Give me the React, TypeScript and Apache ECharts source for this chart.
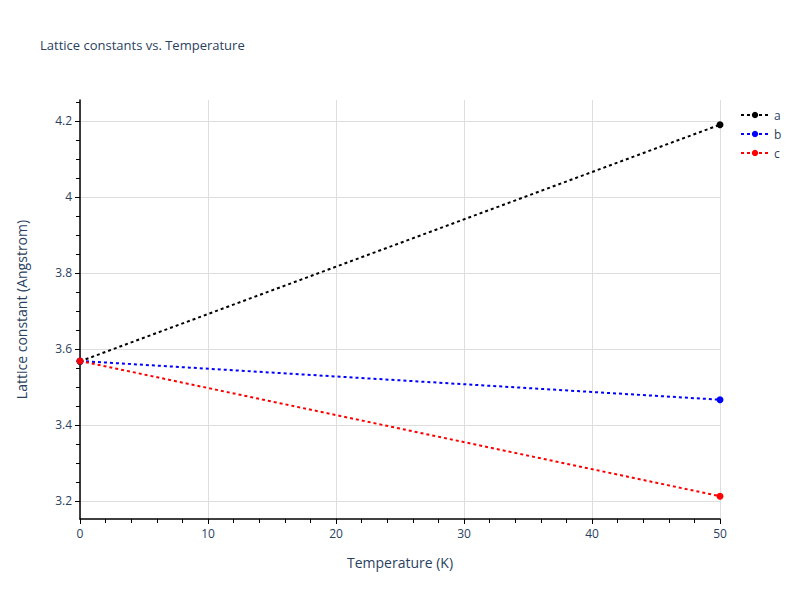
import React, { useEffect, useRef } from "react";
import * as echarts from "echarts";

const temperatures = [0, 50];
const seriesA = [3.567, 4.19];
const seriesB = [3.568, 3.466];
const seriesC = [3.568, 3.212];
const seriesNames = ["a", "b", "c"];
const seriesColors = ["#000000", "#0000ff", "#ff0000"];
const yMajorTicks = [3.2, 3.4, 3.6, 3.8, 4, 4.2];
const yMinorTicks = [3.15, 3.2, 3.25, 3.3, 3.35, 3.4, 3.45, 3.5, 3.55, 3.6, 3.65, 3.7, 3.75, 3.8, 3.85, 3.9, 3.95, 4, 4.05, 4.1, 4.15, 4.2, 4.25];

const textColor = "#2a3f5f";
const font = "'Open Sans', Verdana, Arial, sans-serif";

export default function App() {
  const ref = useRef<HTMLDivElement>(null);
  useEffect(() => {
    if (!ref.current) return;
    const chart = echarts.init(ref.current, null, { renderer: "svg" });
    const allSeries = [seriesA, seriesB, seriesC];
    const yMin = 3.152;
    const yMax = 4.255;
    chart.setOption({
      animation: false,
      backgroundColor: "#ffffff",
      textStyle: { fontFamily: font },
      title: {
        text: "Lattice constants vs. Temperature",
        left: 35,
        top: 33,
        textStyle: { fontFamily: font, fontSize: 13, fontWeight: "normal", color: textColor },
      },
      legend: {
        orient: "vertical",
        left: 735,
        top: 104,
        itemWidth: 28,
        itemHeight: 8,
        itemGap: 7,
        data: seriesNames,
        textStyle: { fontFamily: font, fontSize: 12, color: textColor },
      },
      grid: { left: 80, right: 80, top: 100, bottom: 81, containLabel: false },
      xAxis: {
        type: "value",
        min: 0,
        max: 50,
        interval: 10,
        name: "Temperature (K)",
        nameLocation: "middle",
        nameGap: 36,
        nameTextStyle: { fontFamily: font, fontSize: 14, color: textColor },
        axisLine: { show: true, onZero: false, lineStyle: { color: "#000000", width: 1.5 } },
        axisTick: { show: true, inside: false, length: 5, lineStyle: { color: "#000000" } },
        minorTick: { show: true, splitNumber: 5, length: 4, lineStyle: { color: "#000000" } },
        axisLabel: { fontFamily: font, fontSize: 12, color: textColor, margin: 8 },
        splitLine: { show: true, lineStyle: { color: "#dedede", width: 1 } },
      },
      yAxis: [
        {
          type: "value",
          min: yMin,
          max: yMax,
          name: "Lattice constant (Angstrom)",
          nameLocation: "middle",
          nameGap: 52,
          nameTextStyle: { fontFamily: font, fontSize: 14, color: textColor },
          axisLine: { show: true, onZero: false, lineStyle: { color: "#000000", width: 1.5 } },
          axisTick: { show: true, inside: false, length: 5, customValues: yMajorTicks, lineStyle: { color: "#000000" } },
          axisLabel: { fontFamily: font, fontSize: 12, color: textColor, margin: 8, customValues: yMajorTicks },
          splitLine: { show: true, lineStyle: { color: "#dedede", width: 1 } },
        },
        {
          type: "value",
          min: yMin,
          max: yMax,
          position: "left",
          axisLine: { show: false },
          axisTick: { show: true, inside: false, length: 4, customValues: yMinorTicks, lineStyle: { color: "#000000" } },
          axisLabel: { show: false },
          splitLine: { show: false },
        },
      ],
      series: allSeries.map((vals, i) => ({
        name: seriesNames[i],
        type: "line",
        yAxisIndex: 0,
        data: temperatures.map((t, j) => [t, vals[j]]),
        symbol: "circle",
        symbolSize: 7,
        showSymbol: true,
        clip: false,
        itemStyle: { color: seriesColors[i] },
        lineStyle: { color: seriesColors[i], width: 2, type: [3, 3] },
      })),
    });
    return () => chart.dispose();
  }, []);
  return <div ref={ref} style={{ width: 800, height: 600, position: "absolute", left: 0, top: 0 }} />;
}
